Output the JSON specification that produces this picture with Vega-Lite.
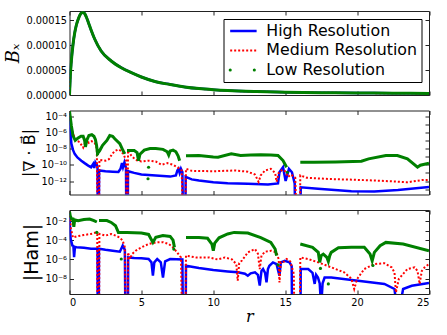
{
 "$schema": "https://vega.github.io/schema/vega-lite/v6.json",
 "autosize": {"type": "pad"},
 "padding": {"left": 3.5, "top": 10, "right": 5, "bottom": 5},
 "bounds": "flush",
 "config": {
  "view": {"stroke": "#222", "strokeWidth": 1},
  "axis": {"domain": false, "grid": false, "tickColor": "#222", "tickSize": -4, "labelFont": "DejaVu Sans", "labelFontSize": 9.8, "labelColor": "black", "labelPadding": 7, "titleColor": "black", "titleFontWeight": "normal"}
 },
 "datasets": {
  "bx": [
   {"r":0,"v":0,"s":"High Resolution"},{"r":0.03,"v":0.00002,"s":"High Resolution"},{"r":0.06,"v":0.00004,"s":"High Resolution"},{"r":0.12,"v":0.000065,"s":"High Resolution"},{"r":0.24,"v":0.0001,"s":"High Resolution"},{"r":0.36,"v":0.000124,"s":"High Resolution"},{"r":0.47,"v":0.000139,"s":"High Resolution"},{"r":0.6,"v":0.000151,"s":"High Resolution"},{"r":0.71,"v":0.000159,"s":"High Resolution"},{"r":0.83,"v":0.000164,"s":"High Resolution"},{"r":0.94,"v":0.000165,"s":"High Resolution"},{"r":1.05,"v":0.000163,"s":"High Resolution"},{"r":1.17,"v":0.000156,"s":"High Resolution"},{"r":1.3,"v":0.000146,"s":"High Resolution"},{"r":1.5,"v":0.00013,"s":"High Resolution"},{"r":1.75,"v":0.000112,"s":"High Resolution"},{"r":2.2,"v":0.000088,"s":"High Resolution"},{"r":2.9,"v":0.000068,"s":"High Resolution"},{"r":3.6,"v":0.0000546,"s":"High Resolution"},{"r":4.3,"v":0.0000446,"s":"High Resolution"},{"r":5,"v":0.000036,"s":"High Resolution"},{"r":6,"v":0.0000265,"s":"High Resolution"},{"r":7,"v":0.000021,"s":"High Resolution"},{"r":8,"v":0.0000162,"s":"High Resolution"},{"r":9,"v":0.0000128,"s":"High Resolution"},{"r":10,"v":0.0000105,"s":"High Resolution"},{"r":11,"v":0.0000088,"s":"High Resolution"},{"r":13,"v":0.0000068,"s":"High Resolution"},{"r":15,"v":0.0000056,"s":"High Resolution"},{"r":17.5,"v":0.0000046,"s":"High Resolution"},{"r":20,"v":0.000004,"s":"High Resolution"},{"r":22.5,"v":0.0000035,"s":"High Resolution"},{"r":25,"v":0.0000031,"s":"High Resolution"},
   {"r":0,"v":0,"s":"Medium Resolution"},{"r":0.03,"v":0.00002,"s":"Medium Resolution"},{"r":0.06,"v":0.00004,"s":"Medium Resolution"},{"r":0.12,"v":0.000065,"s":"Medium Resolution"},{"r":0.24,"v":0.0001,"s":"Medium Resolution"},{"r":0.36,"v":0.000124,"s":"Medium Resolution"},{"r":0.47,"v":0.000139,"s":"Medium Resolution"},{"r":0.6,"v":0.000151,"s":"Medium Resolution"},{"r":0.71,"v":0.000159,"s":"Medium Resolution"},{"r":0.83,"v":0.000164,"s":"Medium Resolution"},{"r":0.94,"v":0.000165,"s":"Medium Resolution"},{"r":1.05,"v":0.000163,"s":"Medium Resolution"},{"r":1.17,"v":0.000156,"s":"Medium Resolution"},{"r":1.3,"v":0.000146,"s":"Medium Resolution"},{"r":1.5,"v":0.00013,"s":"Medium Resolution"},{"r":1.75,"v":0.000112,"s":"Medium Resolution"},{"r":2.2,"v":0.000088,"s":"Medium Resolution"},{"r":2.9,"v":0.000068,"s":"Medium Resolution"},{"r":3.6,"v":0.0000546,"s":"Medium Resolution"},{"r":4.3,"v":0.0000446,"s":"Medium Resolution"},{"r":5,"v":0.000036,"s":"Medium Resolution"},{"r":6,"v":0.0000265,"s":"Medium Resolution"},{"r":7,"v":0.000021,"s":"Medium Resolution"},{"r":8,"v":0.0000162,"s":"Medium Resolution"},{"r":9,"v":0.0000128,"s":"Medium Resolution"},{"r":10,"v":0.0000105,"s":"Medium Resolution"},{"r":11,"v":0.0000088,"s":"Medium Resolution"},{"r":13,"v":0.0000068,"s":"Medium Resolution"},{"r":15,"v":0.0000056,"s":"Medium Resolution"},{"r":17.5,"v":0.0000046,"s":"Medium Resolution"},{"r":20,"v":0.000004,"s":"Medium Resolution"},{"r":22.5,"v":0.0000035,"s":"Medium Resolution"},{"r":25,"v":0.0000031,"s":"Medium Resolution"},
   {"r":0,"v":0,"s":"Low Resolution"},{"r":0.03,"v":0.00002,"s":"Low Resolution"},{"r":0.06,"v":0.00004,"s":"Low Resolution"},{"r":0.12,"v":0.000065,"s":"Low Resolution"},{"r":0.24,"v":0.0001,"s":"Low Resolution"},{"r":0.36,"v":0.000124,"s":"Low Resolution"},{"r":0.47,"v":0.000139,"s":"Low Resolution"},{"r":0.6,"v":0.000151,"s":"Low Resolution"},{"r":0.71,"v":0.000159,"s":"Low Resolution"},{"r":0.83,"v":0.000164,"s":"Low Resolution"},{"r":0.94,"v":0.000165,"s":"Low Resolution"},{"r":1.05,"v":0.000163,"s":"Low Resolution"},{"r":1.17,"v":0.000156,"s":"Low Resolution"},{"r":1.3,"v":0.000146,"s":"Low Resolution"},{"r":1.5,"v":0.00013,"s":"Low Resolution"},{"r":1.75,"v":0.000112,"s":"Low Resolution"},{"r":2.2,"v":0.000088,"s":"Low Resolution"},{"r":2.9,"v":0.000068,"s":"Low Resolution"},{"r":3.6,"v":0.0000546,"s":"Low Resolution"},{"r":4.3,"v":0.0000446,"s":"Low Resolution"},{"r":5,"v":0.000036,"s":"Low Resolution"},{"r":6,"v":0.0000265,"s":"Low Resolution"},{"r":7,"v":0.000021,"s":"Low Resolution"},{"r":8,"v":0.0000162,"s":"Low Resolution"},{"r":9,"v":0.0000128,"s":"Low Resolution"},{"r":10,"v":0.0000105,"s":"Low Resolution"},{"r":11,"v":0.0000088,"s":"Low Resolution"},{"r":13,"v":0.0000068,"s":"Low Resolution"},{"r":15,"v":0.0000056,"s":"Low Resolution"},{"r":17.5,"v":0.0000046,"s":"Low Resolution"},{"r":20,"v":0.000004,"s":"Low Resolution"},{"r":22.5,"v":0.0000035,"s":"Low Resolution"},{"r":25,"v":0.0000031,"s":"Low Resolution"}
  ],
  "divH": [
   {"r":0,"v":4e-4},{"r":0.05,"v":3.2e-6},{"r":0.13,"v":4e-8},{"r":0.25,"v":6.3e-9},{"r":0.36,"v":2.2e-9},{"r":0.55,"v":7.9e-10},{"r":0.82,"v":3.2e-10},{"r":1.05,"v":1.6e-10},{"r":1.3,"v":7.9e-11},{"r":1.5,"v":5e-11},{"r":1.65,"v":1.3e-10},{"r":1.72,"v":4e-11},{"r":1.8,"v":2e-10},{"r":1.9,"v":1e-10},{"r":1.95,"v":5e-11},{"r":1.97,"v":1e-20},{"r":2.03,"v":1e-20},{"r":2.06,"v":2e-11},{"r":2.5,"v":1.6e-11},{"r":3.0,"v":1.4e-11},{"r":3.4,"v":1.3e-11},{"r":3.55,"v":3.2e-11},{"r":3.65,"v":1.6e-10},{"r":3.72,"v":5e-11},{"r":3.82,"v":2e-10},{"r":3.93,"v":4e-11},{"r":3.96,"v":1e-20},{"r":4.04,"v":1e-20},{"r":4.07,"v":1.6e-11},{"r":4.5,"v":1e-11},{"r":5.0,"v":6.3e-12},{"r":6.0,"v":4.8e-12},{"r":7.0,"v":3.5e-12},{"r":7.4,"v":5e-12},{"r":7.5,"v":2e-11},{"r":7.58,"v":3.2e-11},{"r":7.66,"v":1e-11},{"r":7.75,"v":3.2e-11},{"r":7.85,"v":1.3e-11},{"r":7.92,"v":1e-20},{"r":8.04,"v":1e-20},{"r":8.08,"v":3.2e-12},{"r":8.5,"v":1.6e-12},{"r":9.0,"v":1.15e-12},{"r":10.0,"v":7.1e-13},{"r":11.0,"v":5.4e-13},{"r":12.4,"v":4.5e-13},{"r":13.8,"v":3.7e-13},{"r":14.5,"v":5e-13},{"r":14.6,"v":1.2e-11},{"r":14.85,"v":5e-11},{"r":15.03,"v":1e-12},{"r":15.26,"v":3.2e-11},{"r":15.47,"v":1.2e-11},{"r":15.66,"v":5e-13},{"r":15.72,"v":1e-20},{"r":16.04,"v":1e-20},{"r":16.08,"v":1.7e-13},{"r":17.28,"v":1.1e-13},{"r":19.6,"v":5.6e-14},{"r":21.2,"v":5.2e-14},{"r":22.84,"v":8.1e-14},{"r":25,"v":1.8e-13}
  ],
  "divM": [
   {"r":0,"v":4e-4},{"r":0.1,"v":1e-5},{"r":0.24,"v":6.3e-7},{"r":0.47,"v":1e-7},{"r":0.7,"v":6.3e-8},{"r":0.95,"v":1.3e-8},{"r":1.17,"v":1.3e-7},{"r":1.35,"v":5e-8},{"r":1.55,"v":7.9e-8},{"r":1.75,"v":5e-8},{"r":1.9,"v":1e-8},{"r":1.96,"v":1e-20},{"r":2.04,"v":1e-20},{"r":2.08,"v":4e-10},{"r":2.5,"v":3.2e-10},{"r":2.75,"v":5e-10},{"r":2.95,"v":2e-9},{"r":3.15,"v":5e-9},{"r":3.4,"v":7.9e-9},{"r":3.6,"v":5e-9},{"r":3.8,"v":1.3e-9},{"r":3.94,"v":3.2e-10},{"r":3.97,"v":1e-20},{"r":4.03,"v":1e-20},{"r":4.07,"v":6.3e-9},{"r":4.3,"v":1.3e-9},{"r":4.6,"v":4e-10},{"r":5.0,"v":2.5e-10},{"r":5.5,"v":3.2e-10},{"r":6.0,"v":2.5e-10},{"r":6.4,"v":1e-10},{"r":6.8,"v":1.6e-10},{"r":7.2,"v":1e-10},{"r":7.5,"v":5e-11},{"r":7.8,"v":2e-11},{"r":7.93,"v":1e-20},{"r":8.03,"v":1e-20},{"r":8.1,"v":3.2e-11},{"r":8.5,"v":1.8e-11},{"r":10.0,"v":1.6e-11},{"r":11.5,"v":2e-11},{"r":12.4,"v":1.4e-11},{"r":12.9,"v":6.3e-12},{"r":13.15,"v":7.9e-13},{"r":13.3,"v":5e-12},{"r":13.6,"v":2e-11},{"r":14.0,"v":3.2e-11},{"r":14.3,"v":1e-11},{"r":14.4,"v":7.9e-13},{"r":14.55,"v":1e-11},{"r":14.8,"v":2.5e-11},{"r":15.0,"v":1.6e-11},{"r":15.2,"v":3.2e-12},{"r":15.4,"v":6.3e-12},{"r":15.7,"v":2.5e-12},{"r":15.85,"v":1e-20},{"r":16.0,"v":1e-20},{"r":16.05,"v":5e-12},{"r":16.5,"v":2.5e-12},{"r":18.0,"v":1.8e-12},{"r":20.0,"v":1.4e-12},{"r":22.0,"v":1e-12},{"r":23.5,"v":7.1e-13},{"r":24.5,"v":1.3e-12},{"r":25.0,"v":1.4e-12}
  ],
  "divL": [
   {"r":0,"v":4e-4,"g":1},{"r":0.13,"v":6.3e-6,"g":1},{"r":0.24,"v":4e-7,"g":1},{"r":0.4,"v":1e-7,"g":1},{"r":0.6,"v":2e-7,"g":1},{"r":0.8,"v":3.2e-7,"g":1},{"r":0.95,"v":3.2e-7,"g":1},{"r":1.05,"v":1e-7,"g":1},{"r":1.11,"v":1.6e-8,"g":1},{"r":1.2,"v":1e-7,"g":1},{"r":1.35,"v":4e-7,"g":1},{"r":1.55,"v":5e-7,"g":1},{"r":1.7,"v":3.2e-7,"g":1},{"r":1.8,"v":1.3e-7,"g":1},{"r":1.88,"v":2.5e-8,"g":1},{"r":1.95,"v":2.5e-9,"g":1},{"r":2.1,"v":5.6e-9,"g":1},{"r":2.3,"v":2.5e-8,"g":1},{"r":2.6,"v":1e-7,"g":1},{"r":2.8,"v":4e-7,"g":1},{"r":3.0,"v":3.2e-7,"g":1},{"r":3.15,"v":1.6e-7,"g":1},{"r":3.5,"v":4e-8,"g":1},{"r":3.72,"v":5.6e-9,"g":1},{"r":3.85,"v":2.2e-9,"g":1},
   {"r":4.0,"v":5.6e-9,"g":2},{"r":4.5,"v":5.6e-9,"g":2},{"r":4.7,"v":3.2e-9,"g":2},{"r":4.8,"v":3.2e-10,"g":2},{"r":4.9,"v":2e-9,"g":2},{"r":5.2,"v":6.3e-9,"g":2},{"r":5.6,"v":1e-8,"g":2},{"r":6.0,"v":1e-8,"g":2},{"r":6.5,"v":7.9e-9,"g":2},{"r":6.8,"v":4e-9,"g":2},{"r":6.9,"v":1.6e-9,"g":2},{"r":7.0,"v":5e-9,"g":2},{"r":7.2,"v":6.3e-9,"g":2},{"r":7.4,"v":4e-9,"g":2},{"r":7.55,"v":1.3e-9,"g":2},{"r":7.66,"v":3.2e-10,"g":2},
   {"r":8.1,"v":1.3e-9,"g":3},{"r":9.0,"v":1.4e-9,"g":3},{"r":10.0,"v":8.9e-10,"g":3},{"r":10.33,"v":8.5e-10,"g":3},{"r":11.25,"v":2.2e-9,"g":3},{"r":11.9,"v":1.4e-9,"g":3},{"r":12.6,"v":1.6e-9,"g":3},{"r":13.3,"v":1.7e-9,"g":3},{"r":14.0,"v":1.6e-9,"g":3},{"r":14.5,"v":1.4e-9,"g":3},{"r":14.85,"v":3.3e-10,"g":3},{"r":15.1,"v":5e-11,"g":3},
   {"r":16.05,"v":2e-10,"g":4},{"r":17.0,"v":2e-10,"g":4},{"r":18.5,"v":2.2e-10,"g":4},{"r":20.3,"v":2.8e-10,"g":4},{"r":20.8,"v":5.4e-10,"g":4},{"r":22.0,"v":1.4e-9,"g":4},{"r":22.8,"v":1.4e-9,"g":4},{"r":23.5,"v":5.4e-10,"g":4},{"r":24.2,"v":5e-11,"g":4},{"r":24.4,"v":8.9e-11,"g":4},{"r":25.0,"v":1.6e-10,"g":4}
  ],
  "divDots": [
   {"r":1.95,"v":2.2e-9},{"r":5.5,"v":5e-11},{"r":5.46,"v":1.9e-12},{"r":15.15,"v":1.2e-11}
  ],
  "hamH": [
   {"r":0,"v":0.1},{"r":0.03,"v":3.4e-3},{"r":0.08,"v":1.4e-4},{"r":0.2,"v":2.8e-5},{"r":0.27,"v":2.5e-5},{"r":0.32,"v":1.7e-6},{"r":0.38,"v":2e-5},{"r":0.5,"v":1.9e-5},{"r":1.0,"v":1.6e-5},{"r":1.5,"v":1.3e-5},{"r":1.95,"v":1.3e-5},{"r":1.97,"v":1e-20},{"r":2.03,"v":1e-20},{"r":2.05,"v":1.3e-5},{"r":2.5,"v":1e-5},{"r":3.0,"v":7.9e-6},{"r":3.5,"v":6.3e-6},{"r":3.7,"v":2.7e-5},{"r":3.85,"v":1e-5},{"r":3.93,"v":1e-20},{"r":4.05,"v":1e-20},{"r":4.08,"v":1.6e-6},{"r":4.5,"v":1.4e-6},{"r":5.0,"v":1.3e-6},{"r":5.5,"v":1.1e-6},{"r":5.7,"v":5e-7},{"r":5.8,"v":2e-8},{"r":5.9,"v":5e-7},{"r":6.1,"v":1.1e-6},{"r":6.35,"v":5e-7},{"r":6.5,"v":1.3e-8},{"r":6.65,"v":6.3e-7},{"r":7.0,"v":1.1e-6},{"r":7.85,"v":1e-6},{"r":7.93,"v":1e-20},{"r":8.05,"v":1e-20},{"r":8.1,"v":2.2e-7},{"r":9.0,"v":1.3e-7},{"r":10.0,"v":7.9e-8},{"r":11.0,"v":5.6e-8},{"r":11.7,"v":4.5e-8},{"r":12.2,"v":3.2e-8},{"r":12.4,"v":2e-8},{"r":12.6,"v":3.5e-8},{"r":12.9,"v":4.5e-8},{"r":13.1,"v":2.5e-8},{"r":13.23,"v":1.9e-9},{"r":13.35,"v":6.3e-8},{"r":13.46,"v":1e-7},{"r":13.6,"v":4e-8},{"r":13.7,"v":4e-9},{"r":13.8,"v":1e-7},{"r":13.9,"v":2.2e-7},{"r":14.15,"v":4.9e-7},{"r":14.4,"v":3.2e-7},{"r":14.6,"v":2e-8},{"r":14.7,"v":4.9e-7},{"r":14.97,"v":7.2e-7},{"r":15.3,"v":4.9e-7},{"r":15.45,"v":2e-7},{"r":15.52,"v":1e-20},{"r":16.04,"v":1e-20},{"r":16.08,"v":1e-7},{"r":16.6,"v":1e-7},{"r":16.9,"v":4e-8},{"r":17.05,"v":2.8e-9},{"r":17.15,"v":2.5e-8},{"r":17.28,"v":1.3e-8},{"r":17.4,"v":3.2e-9},{"r":17.5,"v":1e-11},{"r":17.6,"v":3.2e-9},{"r":17.74,"v":1.3e-8},{"r":18.2,"v":1.3e-8},{"r":20.06,"v":6e-9},{"r":21.9,"v":2.8e-9},{"r":22.6,"v":8.3e-10},{"r":22.84,"v":1e-12},{"r":23.2,"v":8.3e-10},{"r":23.8,"v":1.8e-9},{"r":25,"v":3.5e-9}
  ],
  "hamM": [
   {"r":0,"v":0.1},{"r":0.1,"v":1.6e-3},{"r":0.24,"v":1.9e-4},{"r":0.5,"v":2.5e-4},{"r":1.0,"v":3.5e-4},{"r":1.5,"v":4.5e-4},{"r":1.85,"v":6.5e-4},{"r":1.93,"v":4e-4},{"r":1.96,"v":1e-20},{"r":2.04,"v":1e-20},{"r":2.08,"v":4.5e-4},{"r":2.5,"v":3e-4},{"r":2.9,"v":4.5e-4},{"r":3.2,"v":3e-4},{"r":3.5,"v":1.9e-4},{"r":3.7,"v":8.9e-5},{"r":3.85,"v":1.8e-5},{"r":3.94,"v":1e-20},{"r":4.03,"v":1e-20},{"r":4.07,"v":5.4e-6},{"r":4.2,"v":1.1e-6},{"r":4.35,"v":3.6e-6},{"r":4.6,"v":8.1e-6},{"r":5.0,"v":1.8e-5},{"r":5.5,"v":4e-5},{"r":6.0,"v":5.9e-5},{"r":6.5,"v":6.3e-5},{"r":6.9,"v":4e-5},{"r":7.2,"v":1.8e-5},{"r":7.5,"v":5e-6},{"r":7.75,"v":1.6e-6},{"r":7.92,"v":1e-20},{"r":8.04,"v":1e-20},{"r":8.1,"v":2.5e-6},{"r":8.8,"v":1.6e-6},{"r":9.7,"v":1.6e-6},{"r":10.3,"v":1e-6},{"r":10.8,"v":1.6e-6},{"r":11.3,"v":1e-6},{"r":11.6,"v":3.2e-7},{"r":11.7,"v":6e-9},{"r":11.8,"v":4e-7},{"r":12.0,"v":7.9e-7},{"r":12.4,"v":5.4e-6},{"r":12.9,"v":1.2e-5},{"r":13.1,"v":4e-6},{"r":13.23,"v":1e-7},{"r":13.35,"v":2.5e-6},{"r":13.6,"v":6.3e-6},{"r":14.03,"v":8.1e-6},{"r":14.4,"v":5.4e-6},{"r":14.55,"v":1e-6},{"r":14.6,"v":4e-9},{"r":14.7,"v":5e-7},{"r":14.85,"v":4.9e-7},{"r":15.1,"v":1.1e-6},{"r":15.35,"v":6.3e-7},{"r":15.6,"v":3.2e-8},{"r":15.7,"v":1e-20},{"r":15.98,"v":1e-20},{"r":16.05,"v":1.6e-6},{"r":16.6,"v":1.1e-6},{"r":17.3,"v":4.9e-7},{"r":18.2,"v":1.5e-7},{"r":19.1,"v":4.5e-8},{"r":19.6,"v":1e-8},{"r":19.8,"v":8.3e-10},{"r":20.0,"v":9.1e-9},{"r":20.5,"v":1e-7},{"r":21.2,"v":3.3e-7},{"r":21.9,"v":4e-7},{"r":22.4,"v":1.5e-7},{"r":22.6,"v":4.5e-8},{"r":22.7,"v":3.6e-10},{"r":22.9,"v":9.1e-9},{"r":23.5,"v":1e-7},{"r":24.0,"v":1.5e-7},{"r":24.2,"v":6.3e-8},{"r":24.35,"v":2.8e-9},{"r":24.5,"v":6.3e-8},{"r":24.7,"v":1.5e-7},{"r":25.0,"v":3.3e-7}
  ],
  "hamL": [
   {"r":0,"v":0.1,"g":1},{"r":0.05,"v":3.5e-2,"g":1},{"r":0.15,"v":1.6e-2,"g":1},{"r":0.24,"v":1.6e-2,"g":1},{"r":0.3,"v":2.5e-3,"g":1},{"r":0.36,"v":1.3e-2,"g":1},{"r":0.6,"v":1.1e-2,"g":1},{"r":1.0,"v":1.4e-2,"g":1},{"r":1.4,"v":1.6e-2,"g":1},{"r":1.7,"v":1.1e-2,"g":1},{"r":1.9,"v":7.9e-3,"g":1},
   {"r":2.05,"v":1.1e-2,"g":2},{"r":2.6,"v":1.1e-2,"g":2},{"r":2.9,"v":7.1e-3,"g":2},{"r":3.2,"v":3.2e-3,"g":2},{"r":3.4,"v":6.5e-4,"g":2},{"r":3.6,"v":6.5e-4,"g":2},{"r":4.0,"v":6.5e-4,"g":2},{"r":5.0,"v":5.6e-4,"g":2},{"r":5.5,"v":4e-4,"g":2},{"r":5.8,"v":5.9e-5,"g":2},{"r":6.0,"v":2e-4,"g":2},{"r":6.5,"v":3e-4,"g":2},{"r":7.0,"v":2.5e-4,"g":2},{"r":7.2,"v":1e-4,"g":2},{"r":7.3,"v":1.8e-5,"g":2},
   {"r":8.1,"v":1.9e-4,"g":3},{"r":9.0,"v":1.9e-4,"g":3},{"r":9.6,"v":1.6e-4,"g":3},{"r":9.9,"v":4e-5,"g":3},{"r":10.0,"v":7.9e-6,"g":3},{"r":10.1,"v":5e-5,"g":3},{"r":10.4,"v":1.8e-4,"g":3},{"r":11.0,"v":4.5e-4,"g":3},{"r":11.45,"v":6.5e-4,"g":3},{"r":12.4,"v":5.6e-4,"g":3},{"r":13.3,"v":1.9e-4,"g":3},{"r":14.0,"v":5.9e-5,"g":3},{"r":14.3,"v":1.2e-5,"g":3},{"r":14.4,"v":2.5e-6,"g":3},
   {"r":16.05,"v":4e-5,"g":4},{"r":16.9,"v":1.8e-5,"g":4},{"r":17.3,"v":5.4e-6,"g":4},{"r":17.4,"v":4.9e-7,"g":4},{"r":17.5,"v":2.5e-6,"g":4},{"r":17.65,"v":3.6e-6,"g":4},{"r":17.9,"v":1.6e-6,"g":4},{"r":18.0,"v":6.3e-7,"g":4},{"r":18.1,"v":2.5e-6,"g":4},{"r":18.2,"v":5.4e-6,"g":4},{"r":18.7,"v":1.6e-5,"g":4},{"r":19.6,"v":1.8e-5,"g":4},{"r":20.5,"v":1.8e-5,"g":4},{"r":20.9,"v":3.6e-6,"g":4},{"r":21.05,"v":7.2e-7,"g":4},{"r":21.2,"v":5.4e-6,"g":4},{"r":21.6,"v":2.7e-5,"g":4},{"r":22.0,"v":5.9e-5,"g":4},{"r":23.2,"v":4e-5,"g":4},{"r":25.0,"v":7.9e-6,"g":4}
  ],
  "hamDots": [
   {"r":1.9,"v":6.5e-4},{"r":3.6,"v":1.1e-6},{"r":7.25,"v":1.2e-5},{"r":14.5,"v":2.7e-7},{"r":17.45,"v":1.15e-7},{"r":18.0,"v":2.8e-9},{"r":21.1,"v":2.3e-7}
  ]
 },
 "spacing": 15.5,
 "resolve": {"scale": {"color": "independent", "x": "independent", "y": "independent"}, "legend": {"color": "independent"}},
 "vconcat": [
  {
   "width": 359.5, "height": 84,
   "data": {"name": "bx"},
   "resolve": {"axis": {"x": "independent", "y": "independent"}},
   "encoding": {
    "x": {"field": "r", "type": "quantitative", "scale": {"domain": [0, 25], "nice": false}, "axis": null},
    "y": {"field": "v", "type": "quantitative", "scale": {"domain": [0, 0.000168], "nice": false}, "axis": null},
    "color": {"field": "s", "type": "nominal", "scale": {"domain": ["High Resolution", "Medium Resolution", "Low Resolution"], "range": ["#0000ff", "#ff0000", "#008000"]},
     "legend": {"orient": "top-right", "offset": 7.5, "title": null, "strokeColor": "black", "fillColor": "white", "padding": 4, "symbolOffset": 8, "symbolType": "stroke", "symbolSize": 700, "symbolStrokeWidth": 2.5, "labelFont": "DejaVu Sans", "labelFontSize": 15.8, "labelColor": "black", "labelOffset": 15, "rowPadding": 2.5, "cornerRadius": 0,
      "encode": {"symbols": {"update": {
       "strokeDash": {"signal": "datum.value == 'Medium Resolution' ? [2, 2] : datum.value == 'Low Resolution' ? [0.1, 24] : [1, 0]"},
       "strokeCap": {"signal": "datum.value == 'Low Resolution' ? 'round' : 'butt'"},
       "strokeWidth": {"signal": "datum.value == 'Low Resolution' ? 3 : datum.value == 'Medium Resolution' ? 2 : 2.5"}
      }}}}}
   },
   "layer": [
    {"transform": [{"filter": "datum.s == 'High Resolution'"}], "mark": {"type": "line", "strokeWidth": 2.5, "interpolate": "monotone", "clip": true},
     "encoding": {
      "x": {"field": "r", "type": "quantitative", "axis": {"values": [0,5,10,15,20,25], "labels": false, "title": null}},
      "y": {"field": "v", "type": "quantitative", "axis": {"values": [0, 0.00005, 0.0001, 0.00015], "format": ".5f", "title": "Bₓ", "titleFont": "DejaVu Serif", "titleFontStyle": "italic", "titleFontSize": 18, "titleX": -47}}}},
    {"transform": [{"filter": "datum.s == 'Medium Resolution'"}], "mark": {"type": "line", "strokeWidth": 2, "strokeDash": [2, 2], "interpolate": "monotone", "clip": true},
     "encoding": {
      "x": {"field": "r", "type": "quantitative", "axis": {"orient": "top", "values": [0,5,10,15,20,25], "labels": false, "title": null}},
      "y": {"field": "v", "type": "quantitative", "axis": {"orient": "right", "values": [0, 0.00005, 0.0001, 0.00015], "labels": false, "title": null}}}},
    {"transform": [{"filter": "datum.s == 'Low Resolution'"}], "mark": {"type": "line", "strokeWidth": 3, "interpolate": "monotone", "clip": true}}
   ]
  },
  {
   "width": 359.5, "height": 84,
   "resolve": {"axis": {"x": "independent", "y": "independent"}},
   "encoding": {
    "x": {"field": "r", "type": "quantitative", "scale": {"domain": [0, 25], "nice": false}, "axis": null},
    "y": {"field": "v", "type": "quantitative", "scale": {"type": "log", "domain": [2.2e-14, 4.8e-4], "nice": false}, "axis": null}
   },
   "layer": [
    {"data": {"name": "divH"}, "mark": {"type": "line", "color": "#0000ff", "strokeWidth": 2.5, "clip": true},
     "encoding": {
      "x": {"field": "r", "type": "quantitative", "axis": {"values": [0,5,10,15,20,25], "labels": false, "title": null}},
      "y": {"field": "v", "type": "quantitative", "axis": {"values": [1e-4, 1e-6, 1e-8, 1e-10, 1e-12], "labelExpr": "'10' + replace(replace(replace(replace(replace(replace(replace(toString(round(log(datum.value)/LN10)), '-', '⁻'), '1', '¹'), '2', '²'), '4', '⁴'), '6', '⁶'), '8', '⁸'), '0', '⁰')", "title": "|∇ · B⃗|", "titleFont": "DejaVu Serif, DejaVu Sans, Noto Sans, Liberation Serif, Noto Sans CJK SC", "titleFontSize": 16, "titleX": -32}}}},
    {"data": {"name": "divM"}, "mark": {"type": "line", "color": "#ff0000", "strokeWidth": 2, "strokeDash": [2, 2], "clip": true},
     "encoding": {
      "x": {"field": "r", "type": "quantitative", "axis": {"orient": "top", "values": [0,5,10,15,20,25], "labels": false, "title": null}},
      "y": {"field": "v", "type": "quantitative", "axis": {"orient": "right", "values": [1e-4, 1e-5, 1e-6, 1e-7, 1e-8, 1e-9, 1e-10, 1e-11, 1e-12, 1e-13], "labels": false, "title": null}}}},
    {"data": {"name": "divL"}, "mark": {"type": "line", "color": "#008000", "strokeWidth": 3, "clip": true}, "encoding": {"detail": {"field": "g", "type": "nominal"}}},
    {"data": {"name": "divDots"}, "mark": {"type": "point", "filled": true, "color": "#008000", "size": 10, "opacity": 1, "clip": true}}
   ]
  },
  {
   "width": 359.5, "height": 84,
   "resolve": {"axis": {"x": "independent", "y": "independent"}},
   "encoding": {
    "x": {"field": "r", "type": "quantitative", "scale": {"domain": [0, 25], "nice": false}, "axis": null},
    "y": {"field": "v", "type": "quantitative", "scale": {"type": "log", "domain": [2.5e-10, 0.14], "nice": false}, "axis": null}
   },
   "layer": [
    {"data": {"name": "hamH"}, "mark": {"type": "line", "color": "#0000ff", "strokeWidth": 2.5, "clip": true},
     "encoding": {
      "x": {"field": "r", "type": "quantitative", "axis": {"values": [0,5,10,15,20,25], "title": "r", "titleFont": "DejaVu Serif", "titleFontStyle": "italic", "titleFontSize": 16, "titlePadding": 2}},
      "y": {"field": "v", "type": "quantitative", "axis": {"values": [1e-2, 1e-4, 1e-6, 1e-8], "labelExpr": "'10' + replace(replace(replace(replace(replace(replace(replace(toString(round(log(datum.value)/LN10)), '-', '⁻'), '1', '¹'), '2', '²'), '4', '⁴'), '6', '⁶'), '8', '⁸'), '0', '⁰')", "title": "|Ham|", "titleFont": "DejaVu Sans", "titleFontSize": 19, "titleX": -28}}}},
    {"data": {"name": "hamM"}, "mark": {"type": "line", "color": "#ff0000", "strokeWidth": 2, "strokeDash": [2, 2], "clip": true},
     "encoding": {
      "x": {"field": "r", "type": "quantitative", "axis": {"orient": "top", "values": [0,5,10,15,20,25], "labels": false, "title": null}},
      "y": {"field": "v", "type": "quantitative", "axis": {"orient": "right", "values": [1e-1, 1e-2, 1e-3, 1e-4, 1e-5, 1e-6, 1e-7, 1e-8, 1e-9], "labels": false, "title": null}}}},
    {"data": {"name": "hamL"}, "mark": {"type": "line", "color": "#008000", "strokeWidth": 3, "clip": true}, "encoding": {"detail": {"field": "g", "type": "nominal"}}},
    {"data": {"name": "hamDots"}, "mark": {"type": "point", "filled": true, "color": "#008000", "size": 10, "opacity": 1, "clip": true}}
   ]
  }
 ]
}
